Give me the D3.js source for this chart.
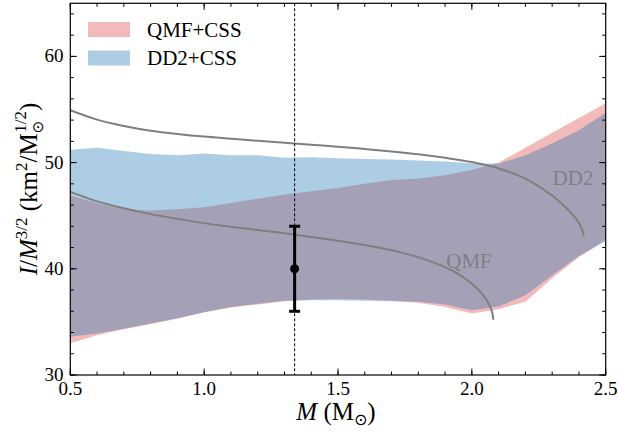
<!DOCTYPE html>
<html><head><meta charset="utf-8">
<script src="https://cdn.jsdelivr.net/npm/d3@7"></script>
<style>
html,body{margin:0;padding:0;background:#fff;}
text{font-family:"Liberation Serif","DejaVu Serif",serif;}
</style></head>
<body><svg id="c" width="618" height="437"></svg>
<script>
// ---- data ----
const massGrid  = [0.5,0.6,0.7,0.8,0.9,1.0,1.1,1.2,1.3,1.4,1.5,1.6,1.7,1.8,1.9,2.0,2.1,2.2,2.3,2.4,2.5];
const qmfUpper  = [46.9,46.2,45.6,45.5,45.6,45.8,46.2,46.6,47.0,47.3,47.6,48.0,48.35,48.5,48.8,49.3,50.0,51.4,52.8,54.2,55.6];
const qmfLower  = [33.0,33.75,34.3,34.8,35.3,35.9,36.35,36.65,36.95,37.1,37.15,37.1,37.0,36.8,36.4,35.8,36.2,36.9,39.1,41.1,42.75];
const dd2Upper  = [51.2,51.4,51.1,50.8,50.7,50.85,50.7,50.7,50.45,50.5,50.4,50.35,50.3,50.2,50.1,49.95,49.9,50.7,51.8,53.05,54.7];
const dd2Lower  = [33.6,33.9,34.35,34.85,35.35,35.9,36.4,36.7,37.0,37.05,37.05,37.0,36.95,36.9,36.65,36.1,36.45,37.5,39.4,41.2,42.6];
const dd2CurveM = [0.5,0.6,0.7,0.8,0.9,1.0,1.1,1.2,1.3,1.4,1.5,1.6,1.7,1.8,1.9,2.0,2.1,2.2,2.3,2.35,2.39,2.41,2.418];
const dd2CurveI = [54.93,54.05,53.45,53.0,52.7,52.45,52.25,52.05,51.87,51.68,51.5,51.28,51.05,50.78,50.45,50.05,49.45,48.5,46.9,45.8,44.7,43.8,43.08];
const qmfCurveM = [0.5,0.6,0.7,0.8,0.9,1.0,1.1,1.2,1.3,1.4,1.5,1.6,1.7,1.8,1.9,1.95,2.0,2.04,2.065,2.077,2.08];
const qmfCurveI = [47.24,46.35,45.7,45.15,44.7,44.3,43.95,43.65,43.35,43.0,42.65,42.25,41.75,41.1,40.15,39.5,38.6,37.6,36.6,35.8,35.2];
const measM = 1.338, measI = 40, measLo = 36, measHi = 44;
const xTicks = [0.5,1.0,1.5,2.0,2.5];
const yTicks = [30,40,50,60];
const seriesNames = ["QMF+CSS","DD2+CSS"];

// ---- layout ----
const L=70.3, R=605.7, T=3.3, B=375;
const x = d3.scaleLinear().domain([0.5,2.5]).range([L,R]);
const y = d3.scaleLinear().domain([30,65]).range([B,T]);
const svg = d3.select("#c");
const redFill = "rgba(214,39,40,0.32)", blueFill = "rgba(31,119,180,0.37)";
const grey = "#7f7f7f";

svg.append("clipPath").attr("id","clip").append("rect")
  .attr("x",L).attr("y",T).attr("width",R-L).attr("height",B-T);
const g = svg.append("g").attr("clip-path","url(#clip)");

const area = (lo,hi) => d3.area().x((d,i)=>x(massGrid[i])).y0((d,i)=>y(lo[i])).y1((d,i)=>y(hi[i]))(massGrid);
g.append("path").attr("d",area(qmfLower,qmfUpper)).attr("fill",redFill);
g.append("path").attr("d",area(dd2Lower,dd2Upper)).attr("fill",blueFill);

const line = d3.line().curve(d3.curveCatmullRom.alpha(0.5));
g.append("path").attr("d",line(dd2CurveM.map((m,i)=>[x(m),y(dd2CurveI[i])])))
  .attr("fill","none").attr("stroke",grey).attr("stroke-width",2);
g.append("path").attr("d",line(qmfCurveM.map((m,i)=>[x(m),y(qmfCurveI[i])])))
  .attr("fill","none").attr("stroke",grey).attr("stroke-width",2);

// vertical dashed line
g.append("line").attr("x1",x(measM)).attr("x2",x(measM)).attr("y1",T).attr("y2",B)
  .attr("stroke","#000").attr("stroke-width",1).attr("stroke-dasharray","3,2");
// error bar
g.append("line").attr("x1",x(measM)).attr("x2",x(measM)).attr("y1",y(measLo)).attr("y2",y(measHi))
  .attr("stroke","#000").attr("stroke-width",3);
[measLo,measHi].forEach(v=>g.append("line").attr("x1",x(measM)-5.5).attr("x2",x(measM)+5.5)
  .attr("y1",y(v)).attr("y2",y(v)).attr("stroke","#000").attr("stroke-width",3));
g.append("circle").attr("cx",x(measM)).attr("cy",y(measI)).attr("r",4.5).attr("fill","#000");

// curve labels
svg.append("text").attr("x",573).attr("y",185).attr("text-anchor","middle")
  .attr("font-size",21).attr("fill",grey).text("DD2");
svg.append("text").attr("x",469).attr("y",268).attr("text-anchor","middle")
  .attr("font-size",21).attr("fill",grey).text("QMF");

// axes with inward ticks
const minorX = d3.range(5,26).map(v=>v/10);
const minorY = d3.range(30,66,2);
function ticks(sel, orient, scale, values, len){
  values.forEach(v=>{
    const p = scale(v);
    if(orient==="bottom") sel.append("line").attr("x1",p).attr("x2",p).attr("y1",B).attr("y2",B-len);
    if(orient==="top") sel.append("line").attr("x1",p).attr("x2",p).attr("y1",T).attr("y2",T+len);
    if(orient==="left") sel.append("line").attr("x1",L).attr("x2",L+len).attr("y1",p).attr("y2",p);
    if(orient==="right") sel.append("line").attr("x1",R).attr("x2",R-len).attr("y1",p).attr("y2",p);
  });
}
const ax = svg.append("g").attr("stroke","#000").attr("stroke-width",1);
["bottom","top"].forEach(o=>{ticks(ax,o,x,xTicks,6.5);ticks(ax,o,x,minorX,3.5);});
["left","right"].forEach(o=>{ticks(ax,o,y,yTicks,6.5);ticks(ax,o,y,minorY,3.5);});
svg.append("rect").attr("x",L).attr("y",T).attr("width",R-L).attr("height",B-T)
  .attr("fill","none").attr("stroke","#000").attr("stroke-width",1.2);

svg.append("g").selectAll("text").data(xTicks).join("text")
  .attr("x",d=>x(d)).attr("y",395).attr("text-anchor","middle").attr("font-size",19)
  .text(d=>d.toFixed(1));
svg.append("g").selectAll("text").data(yTicks).join("text")
  .attr("x",63.5).attr("y",d=>y(d)+6).attr("text-anchor","end").attr("font-size",19)
  .text(d=>d);

// x label
const xl = svg.append("text").attr("x",336).attr("y",420).attr("text-anchor","middle").attr("font-size",25);
xl.append("tspan").attr("font-style","italic").text("M");
xl.append("tspan").text(" (M");
xl.append("tspan").attr("font-size",16).attr("dy",5).attr("font-family","DejaVu Sans").text("⊙");
xl.append("tspan").attr("dy",-5).text(")");

// y label
const yl = svg.append("text").attr("transform","translate(37,189) rotate(-90)")
  .attr("text-anchor","middle").attr("font-size",25);
yl.append("tspan").attr("font-style","italic").text("I");
yl.append("tspan").text("/");
yl.append("tspan").attr("font-style","italic").text("M");
yl.append("tspan").attr("font-size",17).attr("dy",-10).text("3/2");
yl.append("tspan").attr("dy",10).text(" (km");
yl.append("tspan").attr("font-size",17).attr("dy",-10).text("2");
yl.append("tspan").attr("dy",10).text("/M");
yl.append("tspan").attr("font-size",15).attr("dy",6).attr("font-family","DejaVu Sans").text("⊙");
yl.append("tspan").attr("font-size",17).attr("dx",-12).attr("dy",-17).text("1/2");
yl.append("tspan").attr("dy",11).text(")");

// legend
const leg = svg.append("g");
[redFill,blueFill].forEach((c,i)=>{
  leg.append("rect").attr("x",88).attr("y",22+i*28.5).attr("width",42).attr("height",15).attr("fill",c);
  leg.append("text").attr("x",147).attr("y",36.5+i*28.5).attr("font-size",21).text(seriesNames[i]);
});
</script></body></html>
